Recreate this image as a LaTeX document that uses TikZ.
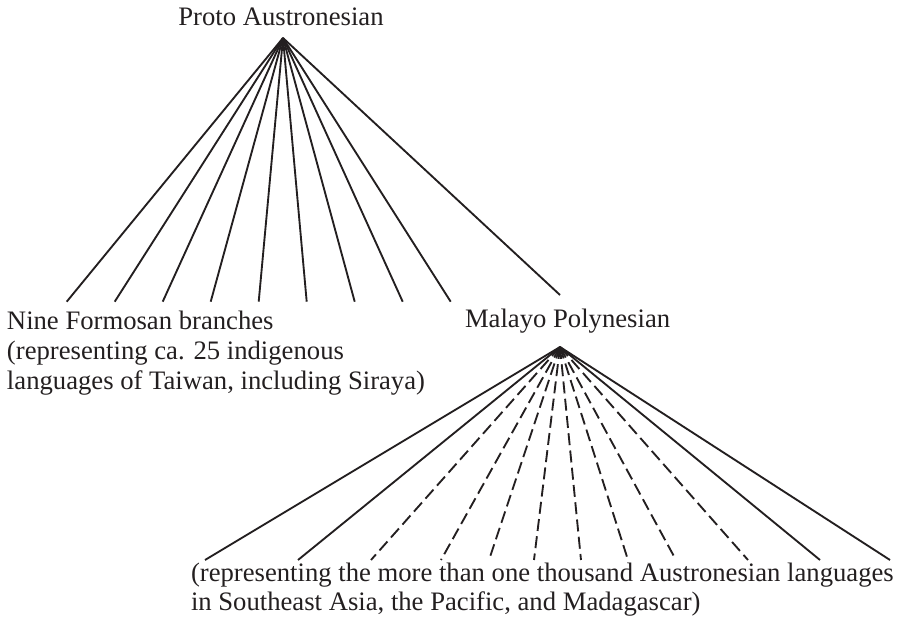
\documentclass[tikz,border=0pt]{standalone}
\usepackage{fontspec}
\setmainfont{Liberation Serif}
\definecolor{ink}{RGB}{35,31,32}
\begin{document}
\begin{tikzpicture}[x=0.75pt,y=-0.75pt,
  lbl/.style={inner sep=0pt, outer sep=0pt, font=\fontsize{20}{22.5}\selectfont, text=ink},
  branch/.style={line width=1.4pt, draw=ink},
  dbranch/.style={branch, dash pattern=on 9pt off 4pt}]
\useasboundingbox (0,0) rectangle (904,623);
% top level
\node[lbl, anchor=base] (pa) at (281,26) {Proto Austronesian};
\coordinate (top) at (283,38);
\foreach \i in {0,...,8} {
  \coordinate (f\i) at ({66.7+48*\i},301.7);
  \draw[branch] (top) -- (f\i);
}
\coordinate (mpend) at (560,295);
\draw[branch] (top) -- (mpend);
% multi-line node: base anchor is the baseline of the last line
\node[lbl, anchor=base west, align=left] (nf) at (7,390)
  {Nine Formosan branches\\(representing ca. 25 indigenous\\languages of Taiwan, including Siraya)};
\node[lbl, anchor=base west] (mp) at (465,328) {Malayo Polynesian};
% lower level
\coordinate (mptop) at (560,347);
\foreach \x [count=\k] in {205,298,371,441,489,534,581,628,676,748,820,890} {
  \coordinate (m\k) at (\x,560);
}
\foreach \k in {1,2,11,12} { \draw[branch] (mptop) -- (m\k); }
\foreach \k in {3,...,10} { \draw[dbranch] (mptop) -- (m\k); }
\node[lbl, anchor=base west, align=left] (ml) at (191,611)
  {(representing the more than one thousand Austronesian languages\\in Southeast Asia, the Pacific, and Madagascar)};
\end{tikzpicture}
\end{document}
